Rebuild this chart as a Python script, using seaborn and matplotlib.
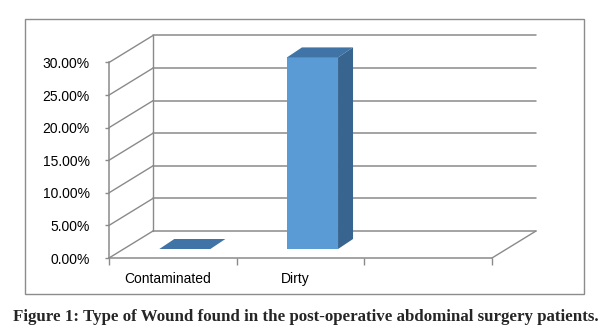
import numpy as np
import pandas as pd
import matplotlib.pyplot as plt
import seaborn as sns
from matplotlib.patches import Polygon, Rectangle
from matplotlib.transforms import ScaledTranslation

# data
categories = ["Contaminated", "Dirty"]
values = [0.0, 0.294]
n_slots = 3
y_ticks = [0.0, 0.05, 0.10, 0.15, 0.20, 0.25, 0.30]
caption = "Figure 1: Type of Wound found in the post-operative abdominal surgery patients."

df = pd.DataFrame({"wound": categories, "share": values})

sns.set_theme(style="white")
plt.rcParams["font.family"] = ["Liberation Sans", "DejaVu Sans"]

W, H = 610, 333
fig = plt.figure(figsize=(W / 100, H / 100), dpi=100)

# front plane of the fake 3d box (pixels)
left, right, base, top = 109, 492, 258, 62.5
ax = fig.add_axes([left / W, (H - base) / H, (right - left) / W, (base - top) / H])
ax.set_xlim(-0.5, n_slots - 0.5)
ax.set_ylim(0, 0.30)

# pixel -> data conversion
kx = (right - left) / n_slots
ky = (base - top) / 0.30
def dx(px):
    return px / kx
def dy(px):
    return px / ky

grid_c = "#8a8a8a"
front_c = "#5b9bd5"
side_c = "#386590"
top_c = "#4174a6"

# back wall and floor
wx, wy = dx(44), dy(27)
x0, x1 = -0.5, n_slots - 0.5
for v in y_ticks:
    ax.plot([x0 + wx, x1 + wx], [v + wy, v + wy], color=grid_c, lw=1.1, clip_on=False, zorder=1)
    ax.plot([x0, x0 + wx], [v, v + wy], color=grid_c, lw=1.0, clip_on=False, zorder=1)
ax.plot([x0 + wx, x0 + wx], [wy, 0.30 + wy], color=grid_c, lw=1.0, clip_on=False, zorder=1)
ax.plot([x1, x1 + wx], [0, wy], color=grid_c, lw=1.0, clip_on=False, zorder=1)

sns.barplot(data=df, x="wound", y="share", color=front_c, saturation=1, width=0.4,
            ax=ax, zorder=3)
ax.set_xlim(-0.5, n_slots - 0.5)
ax.set_ylim(0, 0.30)

# turn the flat bars into boxes
bx, by = dx(12), dy(9)
ex, ey = dx(15), dy(10)
for p in list(ax.patches):
    px, w, h = p.get_x(), p.get_width(), p.get_height()
    p.set_x(px + bx)
    p.set_y(by)
    p.set_clip_on(False)
    p.set_edgecolor("none")
    a = px + bx
    ax.add_patch(Polygon([(a, by + h), (a + w, by + h), (a + w + ex, by + h + ey), (a + ex, by + h + ey)],
                         closed=True, fc=top_c, ec="none", zorder=4, clip_on=False))
    if h > 0:
        ax.add_patch(Polygon([(a + w, by), (a + w + ex, by + ey), (a + w + ex, by + h + ey), (a + w, by + h)],
                             closed=True, fc=side_c, ec="none", zorder=4, clip_on=False))

sns.despine(ax=ax)
for s in ["left", "bottom"]:
    ax.spines[s].set_color(grid_c)
    ax.spines[s].set_linewidth(1.1)

ax.set_yticks(y_ticks)
ax.set_yticklabels([f"{v:.2%}" for v in y_ticks])
ax.set_xticks(range(len(categories)))
ax.set_xticklabels(categories)
ax.set_xticks(np.arange(-0.5, n_slots), minor=True)
ax.tick_params(axis="y", length=3, width=1, color=grid_c, pad=11, labelsize=10, labelcolor="black", left=True)
ax.tick_params(axis="x", which="major", length=0, pad=10, labelsize=10, labelcolor="black")
ax.tick_params(axis="x", which="minor", length=5, width=1, color=grid_c, bottom=True)
ax.set_xlabel("")
ax.set_ylabel("")
ax.grid(False)

# category labels sit a little left of the slot centre
shift = ScaledTranslation(-5 / 100, 0, fig.dpi_scale_trans)
for lab in ax.get_xticklabels():
    lab.set_transform(lab.get_transform() + shift)

# outer frame
fig.add_artist(Rectangle((25 / W, (H - 294) / H), (584 - 25) / W, (294 - 19) / H,
                         transform=fig.transFigure, fill=False, ec="#8c8c8c", lw=1.0))

fig.text(0.501, (H - 317) / H, caption, ha="center", va="center",
         family=["Liberation Serif", "DejaVu Serif"], fontweight="bold", fontsize=12.2)

fig.savefig("out.png", dpi=100)
